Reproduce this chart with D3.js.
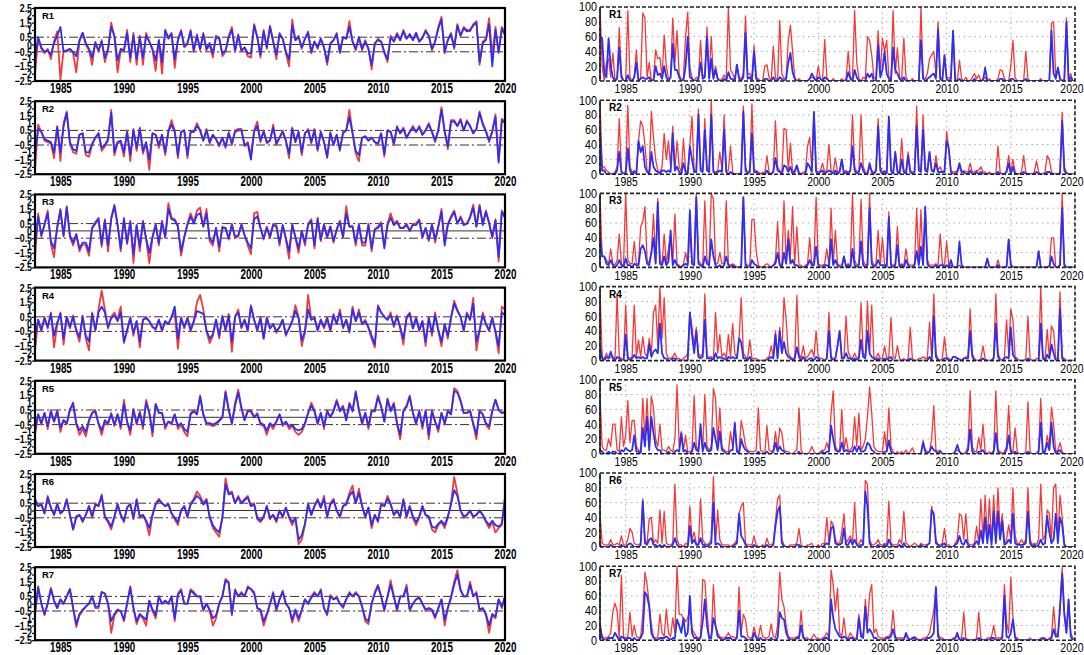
<!DOCTYPE html>
<html>
<head>
<meta charset="utf-8">
<script src="https://cdn.jsdelivr.net/npm/d3@7"></script>
<style>
  body { margin: 0; background: #fff; }
  svg { display: block; }
</style>
</head>
<body>
<div id="chart"></div>
<script>
// ---- tick labels / names ----
var panelNames = ["R1", "R2", "R3", "R4", "R5", "R6", "R7"];
var xTicks = [1985, 1990, 1995, 2000, 2005, 2010, 2015, 2020];
var leftYTicks = [2.5, 2, 1.5, 1, 0.5, 0, -0.5, -1, -1.5, -2, -2.5];
var rightYTicks = [0, 20, 40, 60, 80, 100];
var rightGrid = [20, 40, 60, 80];

// ---- left panels: quarterly anomalies x10, from 1983.0 to 2020.0 ----
var anomR1Red = [-20,4,-3,-6, -3,-10,2,9, -24,-4,-5,-3, -6,-19,2,8, 0,-4,-14,2, -5,3,-12,-4, 15,5,-19,-4, -5,10,-12,8, -14,6,-14,8, 2,-4,-18,3,
  -20,9,5,8, -16,3,10,-2, 0,10,-5,7, -4,8,-4,0, -9,6,5,-8, -5,6,12,-5, 7,-5,-2,-8, -9,14,5,-9, 10,-3,13,2, -10,8,4,-6,
  -15,17,3,6, -3,4,9,-6, 2,-3,4,-2, -14,0,3,8, -6,5,4,16, 2,-4,5,-4, 3,-3,-17,0, 4,2,-6,-12, 6,2,8,3, 10,4,7,3,
  8,2,4,10, 6,-4,2,12, 19,-6,3,8, -3,14,6,12, 10,9,14,16, -14,2,4,18, -8,12,-6,12, 8];
var anomR1Blue = [-10,5,-2,-5, -4,-7,1,6, 12,-5,-4,-3, -5,-8,3,8, 1,-3,-9,1, -4,2,-9,-3, 12,6,-11,-3, -4,8,-9,6, -10,5,-9,6, 2,-3,-11,3,
  -12,10,4,7, -10,3,9,-1, 1,9,-4,6, -3,7,-3,1, -6,5,4,-6, -4,5,10,-4, 6,-4,-2,-6, -6,13,5,-7, 9,-2,12,2, -7,7,4,-5,
  -10,13,3,5, -2,4,8,-5, 2,-2,4,-2, -12,1,3,7, -5,5,4,12, 2,-3,5,-3, 2,-3,-14,1, 3,2,-5,-10, 5,2,7,3, 9,4,7,3,
  8,2,5,9, 6,-3,2,11, 17,-5,3,7, -2,13,6,11, 9,10,13,15, -12,1,3,14, -15,10,-5,11, 6];
var anomR2Red = [-22,9,4,-2, -3,-4,-14,8, -16,10,18,-4, -10,-11,2,3, -12,-13,-5,0, 3,-9,-6,-2, 19,-12,-4,-3, -13,5,-16,6, -9,7,-11,-4, -22,3,2,-7,
  2,-12,5,12, 5,-14,4,5, -14,4,4,10, 5,-2,6,-4, 2,-1,-6,0, -7,4,-5,5, 6,6,-6,-3, -12,5,11,-3, 5,-4,-2,9, -5,0,5,-2,
  -14,7,-3,4, -12,3,6,-4, 6,-9,4,-3, -14,4,-5,2, -9,4,5,19, 3,-11,-16,0, 1,-2,0,-3, -5,3,-13,5, 4,-5,8,3, 7,0,4,8,
  4,8,2,5, 10,4,-3,6, 21,5,-8,12, 12,8,13,5, 12,8,3,6, 18,10,5,-3, 5,16,-16,13, 11];
var anomR2Blue = [-12,6,4,-1, -2,-3,-10,7, -10,8,17,-3, -8,-9,2,3, -10,-10,-4,0, 3,-7,-5,-1, 17,-10,-3,-2, -10,4,-12,5, -7,6,-9,-3, -15,3,2,-5,
  2,-10,4,9, 4,-12,4,5, -12,4,4,8, 5,-2,5,-3, 2,-1,-5,0, -6,3,-4,4, 5,5,-5,-4, -15,4,8,-2, 4,-3,-2,7, -4,0,4,-2,
  -11,6,-3,4, -10,3,5,-3, 5,-8,4,-3, -13,3,-5,2, -8,3,5,14, 3,-9,-12,0, 1,-2,0,-3, -4,3,-11,5, 4,-4,7,3, 6,0,4,7,
  4,7,2,5, 9,4,-2,5, 19,4,-6,11, 11,8,12,5, 11,8,3,6, 17,9,4,-2, 4,14,-17,12, 10];
var anomR3Red = [-18,12,-4,5, 14,-9,-18,3, 15,-4,17,-4, -10,-3,-14,-9, -10,-17,2,6, 9,-11,8,-14, 9,18,5,-14, 9,-9,7,-22, 4,-14,7,-6, -22,-5,5,-10,
  7,-5,19,9, 8,4,-17,-5, 5,12,6,14, 16,3,15,-7, -10,2,-14,3, 2,-6,5,-5, -4,5,-3,-10, -16,12,13,2, -6,3,-5,5, 4,-10,4,-6,
  -19,5,-5,-15, 0,-10,5,8, -12,9,-7,5, -5,3,-8,1, 7,-5,17,3, 3,-10,5,-10, -10,5,-14,1, 3,6,-10,5, 12,5,7,2, 2,5,0,5,
  5,8,-5,2, -7,5,-8,3, 15,-8,5,10, 14,5,10,5, 5,10,18,3, 18,5,14,6, -5,8,-21,14, 10];
var anomR3Blue = [-10,10,-3,4, 12,-7,-12,2, 14,-3,16,-3, -8,-2,-12,-8, -8,-14,2,5, 8,-9,7,-10, 8,17,4,-12, 8,-8,6,-16, 4,-11,6,-5, -15,-4,4,-8,
  6,-4,15,8, 7,3,-14,-4, 4,10,5,11, 12,3,12,-5, -8,2,-11,2, 2,-5,4,-4, -3,4,-3,-8, -12,8,10,2, -5,2,-4,4, 3,-8,4,-5,
  -14,4,-4,-12, 0,-8,4,7, -10,8,-6,4, -4,3,-7,1, 6,-4,12,3, 3,-8,4,-8, -8,4,-12,1, 2,5,-12,4, 9,4,6,2, 2,4,0,4,
  4,7,-4,2, -6,4,-6,3, 13,-10,4,9, 13,5,9,4, 5,9,16,3, 17,4,13,5, -4,7,-18,13, 9];
var anomR4Red = [-18,3,-5,5, -3,8,-16,0, 8,-14,5,-3, 6,-5,-12,6, -10,-18,8,-5, 10,23,10,-3, 5,8,3,12, -13,-5,5,-8, 2,-16,3,5, 2,-2,-4,3,
  -5,2,0,5, 8,-17,5,-3, 5,-5,2,15, 20,10,-5,-13, -8,3,-10,6, -5,7,-19,5, 10,-3,3,-5, 13,3,-5,5, -10,5,-3,0, -6,-2,3,-8,
  -3,2,13,5, -15,-6,20,3, 5,-5,3,-3, 5,-5,7,0, 10,-3,3,-6, 12,2,10,0, 3,-3,-10,-16, 13,8,5,3, 8,-2,6,-3, -14,5,8,-3,
  5,-5,2,-15, 5,-8,8,-5, -15,0,-10,5, 16,10,5,-5, 8,3,18,-18, -5,8,0,-5, 5,-6,-20,12, 10];
var anomR4Blue = [-10,3,-4,4, -2,7,-8,1, 7,-10,5,-2, 5,-4,-9,5, -8,-12,7,-4, 8,12,8,-2, 4,6,2,8, -12,-4,4,-6, 2,-12,3,4, 2,-2,-3,3,
  -4,2,0,5, 12,-10,4,-2, 4,-4,2,9, 8,7,-4,-10, -7,3,-8,5, -4,6,-12,5, 8,-2,3,-4, 12,3,-4,4, -10,4,-3,0, -5,-2,3,-7,
  -3,2,9,4, -11,-5,10,3, 4,-4,3,-2, 4,-4,6,0, 8,-2,3,-5, 10,2,8,0, 2,-2,-8,-14, 12,8,5,3, 6,-1,5,-2, -10,4,7,-3,
  4,-4,2,-12, 4,-6,6,-4, -12,0,-8,4, 14,9,5,-4, 7,3,14,-12, -4,6,0,-4, 4,-5,-15,8, 6];
var anomR5Red = [-12,2,-5,3, -8,5,-3,5, -10,-2,-5,6, 8,-5,-12,-8, -13,-3,3,5, -5,-12,-3,-5, 3,-6,2,-8, 12,-3,-12,6, -5,4,-8,12, 3,-13,9,3,
  3,-8,-3,-5, 2,-8,-5,-10, -13,3,5,2, 15,2,-5,-5, -6,-5,-3,0, 18,5,-5,10, 19,7,-2,5, 5,0,3,-5, -6,-12,-5,-8, -3,2,-6,-3,
  -8,-6,-10,-12, -10,-5,3,10, 5,-5,3,-8, 5,0,5,12, 5,8,-2,10, 5,18,5,-5, 3,-8,5,5, 15,8,-3,13, 5,10,-5,-15, 5,8,15,3,
  -5,5,-8,5, -15,5,-3,-10, 3,-5,5,2, 20,18,12,3, 3,5,-5,-15, 5,2,-5,-8, 5,12,5,3, 4];
var anomR5Blue = [-8,2,-4,3, -6,4,-3,4, -7,-2,-4,5, 10,-4,-9,-6, -10,-2,3,4, -4,-9,-2,-4, 2,-5,2,-6, 9,-3,-9,5, -4,3,-6,10, 3,-10,9,3,
  3,-6,-3,-4, 2,-6,-4,-8, -10,2,4,2, 14,2,-4,-4, -5,-4,-2,0, 17,5,-4,8, 17,6,-2,4, 4,0,2,-4, -5,-9,-4,-6, -3,2,-5,-3,
  -6,-5,-8,-9, -8,-4,3,8, 4,-4,3,-6, 4,0,4,11, 4,7,-2,9, 4,17,5,-4, 3,-6,4,4, 14,7,-3,12, 4,9,-4,-12, 4,7,14,3,
  -4,4,-6,4, -12,4,-3,-8, 3,-4,4,2, 18,17,11,3, 3,4,-4,-12, 4,2,-4,-6, 4,12,5,3, 3];
var anomR6Red = [5,3,5,-2, 10,2,-3,5, -2,0,8,-3, -13,-5,-3,-8, -3,3,-5,5, 3,11,-5,-8, -13,-5,5,-3, -8,2,5,-6, 8,-5,-3,-8, -17,-3,5,8,
  5,3,5,-2, -6,-10,0,3, -5,5,8,13, 10,5,8,-5, -12,-15,-18,-5, 22,12,13,5, 10,5,8,10, 3,5,-6,-8, -5,3,-6,-3, -8,0,-5,2,
  -5,-10,-5,-23, -20,-10,5,-3, 3,8,2,10, -5,5,8,0, -5,3,5,12, 17,5,15,3, -5,2,-12,-3, -8,5,3,10, 5,-3,0,-5, 8,-5,3,-5,
  -10,-5,3,-3, -5,-13,-15,-10, -8,-12,-5,5, 23,12,0,-5, -3,0,-5,-3, 0,-3,-8,-12, -8,-15,-12,-10, 10];
var anomR6Blue = [8,3,4,-2, 9,2,-3,4, -2,0,7,-3, -13,-4,-3,-7, -3,3,-4,4, 3,10,-4,-7, -11,-4,4,-3, -7,2,4,-5, 7,-4,-3,-7, -12,-3,4,7,
  5,3,4,-2, -5,-8,0,3, -4,4,7,10, 8,4,7,-4, -10,-13,-15,-5, 18,11,12,5, 9,5,7,9, 3,4,-5,-7, -4,3,-5,-3, -7,0,-4,2,
  -4,-8,-5,-20, -17,-9,4,-3, 3,7,2,8, -4,4,7,0, -4,3,4,10, 13,5,12,3, -4,2,-10,-3, -7,4,3,8, 4,-3,0,-4, 7,-4,3,-4,
  -8,-4,3,-3, -4,-11,-12,-9, -7,-10,-4,4, 14,10,0,-4, -3,0,-4,-3, 0,-3,-7,-10, -7,-10,-11,-9, 8];
var anomR7Red = [-8,12,0,-8, 0,11,2,-3, 3,0,5,10, -3,-16,-8,-5, -2,0,5,-3, -3,8,7,0, -20,-8,-5,-5, -12,0,12,-3, -14,-8,-10,-15, 2,-5,-10,5,
  0,2,0,5, -12,7,10,0, 0,10,8,5, 5,-5,0,-5, -15,-10,0,5, 17,15,-8,10, 5,8,5,12, 10,8,-3,-5, -15,-8,0,8, -5,3,9,0,
  -3,-13,-5,-12, -5,3,0,5, 8,5,10,-3, -8,6,3,5, 0,-3,3,8, 5,8,5,-2, -12,-14,0,8, 13,5,-5,5, 16,5,-5,5, 5,13,-5,0,
  3,5,0,-5, -3,-5,-10,-3, 3,-15,-3,5, 15,23,10,5, 5,15,5,8, -5,-3,-8,-20, -8,-10,3,-3, 5];
var anomR7Blue = [-6,11,0,-7, 0,10,2,-3, 3,0,5,10, -3,-14,-7,-4, -2,0,5,-2, -2,8,7,0, -12,-7,-4,-5, -11,0,11,-3, -12,-7,-9,-11, 2,-4,-8,5,
  0,2,0,5, -10,6,9,0, 0,9,7,5, 5,-4,0,-4, -10,-8,0,5, 16,14,-7,9, 5,7,5,11, 10,7,-3,-4, -12,-7,0,7, -4,3,8,0,
  -3,-11,-4,-10, -4,3,0,4, 7,5,9,-3, -7,5,3,4, 0,-2,3,7, 5,7,5,-2, -10,-12,0,7, 12,5,-4,5, 13,5,-4,5, 5,11,-4,0,
  3,4,0,-4, -3,-4,-9,-3, 3,-11,-3,4, 13,20,9,5, 5,13,5,7, -4,-3,-7,-15, -7,-9,3,-2, 5];

// ---- right panels: bimonthly percentages, from 1983.0 to 2020.0 ----
var freqR1Red = [100,20,0,25,30,5, 38,2,5,72,10,0, 0,95,5,0,5,42, 0,5,92,85,5,25, 0,3,42,30,32,5, 62,20,3,5,85,25, 68,10,0,5,60,93, 18,5,0,5,3,55,
  5,10,73,5,60,5, 20,5,0,3,8,3, 100,15,10,3,22,5, 3,10,88,10,10,3, 48,5,3,0,0,20, 22,5,0,47,5,0, 82,10,3,5,55,75, 40,5,0,3,0,0,
  0,0,3,5,3,0, 20,3,0,56,5,0, 0,3,0,0,0,3, 0,3,40,5,3,95, 25,3,0,5,3,60, 55,35,5,3,68,10, 58,40,55,5,3,95, 10,45,5,3,58,5,
  0,0,3,0,0,0, 100,5,3,10,30,35, 40,10,80,5,3,35, 3,5,3,68,3,0, 28,3,0,5,0,0, 5,10,3,8,0,3, 5,0,3,0,0,0, 3,15,14,3,0,0,
  20,55,5,0,0,0, 0,40,3,0,0,0, 0,0,3,0,0,0, 0,78,80,5,18,3, 0,3,85,3,10,0, 0];
var freqR1Blue = [60,58,10,5,58,20, 5,0,3,45,5,0, 0,8,0,0,5,25, 0,3,5,3,3,5, 0,0,20,8,10,3, 20,5,0,5,50,15, 15,5,0,0,20,60, 5,3,0,0,3,25,
  3,5,60,3,30,3, 15,3,0,0,3,0, 12,3,3,0,22,3, 0,5,65,3,5,0, 40,3,0,0,0,3, 3,0,0,5,0,0, 5,3,0,3,25,38, 12,3,0,0,0,0,
  0,0,3,10,5,0, 5,3,0,5,3,0, 0,0,0,0,0,0, 0,0,12,3,0,15, 5,0,0,0,0,10, 5,10,0,0,49,5, 15,40,10,3,0,45, 15,10,3,0,5,0,
  0,0,0,0,0,0, 55,3,0,3,5,8, 10,3,70,3,0,35, 3,0,3,68,0,0, 3,0,0,0,0,0, 0,3,0,0,0,0, 18,0,0,0,0,0, 0,3,3,0,0,0,
  3,3,0,0,0,0, 0,3,0,0,0,0, 0,0,0,0,0,0, 0,68,10,3,18,3, 0,0,80,0,5,0, 0];
var freqR2Red = [100,10,10,5,3,0, 0,3,10,75,5,0, 5,93,10,3,5,3, 45,72,65,40,5,3, 85,50,20,5,3,10, 55,20,45,10,65,5, 45,10,3,48,5,3, 40,78,5,5,88,10,
  5,75,10,5,100,5, 3,5,30,5,80,5, 5,38,3,0,0,0, 3,92,10,3,5,95, 5,5,3,0,3,0, 25,3,0,5,72,10, 5,3,62,60,5,42, 3,5,12,3,0,3,
  3,38,50,5,85,5, 3,5,15,3,5,40, 5,3,22,3,5,20, 3,5,3,5,80,10, 3,5,80,10,3,0, 10,5,3,5,75,10, 3,5,3,75,5,3, 30,5,3,48,5,3,
  30,5,3,3,92,10, 5,80,10,5,30,5, 5,25,5,10,3,5, 58,35,5,3,3,5, 10,3,5,3,3,15, 3,3,5,5,10,3, 3,0,3,0,0,0, 38,3,0,0,5,25,
  3,20,3,0,0,3, 25,3,0,0,0,3, 18,3,0,0,3,25, 20,3,0,0,0,3, 84,10,3,0,0,0, 0];
var freqR2Blue = [55,5,5,0,0,0, 0,0,5,30,3,0, 0,35,5,0,3,0, 45,30,38,10,3,0, 30,10,5,3,0,5, 5,3,5,3,55,5, 10,3,0,15,3,0, 38,20,3,3,80,5,
  3,60,5,3,80,3, 0,3,5,3,60,3, 0,3,0,0,0,0, 0,85,5,0,3,55, 3,3,0,0,0,0, 5,0,0,3,22,5, 3,0,12,10,3,10, 0,3,12,0,0,0,
  0,15,10,3,84,3, 0,3,5,0,3,5, 3,0,5,0,3,20, 0,3,0,5,38,5, 0,3,15,5,0,0, 15,3,0,5,65,5, 0,3,0,78,5,0, 30,3,0,20,3,0,
  25,3,0,3,65,5, 3,60,5,3,30,5, 3,15,3,3,3,3, 45,35,3,0,0,3, 15,3,3,0,0,5, 0,0,3,0,3,0, 0,0,0,0,0,0, 3,0,0,0,3,15,
  0,10,0,0,0,0, 3,0,0,0,0,0, 3,0,0,0,0,3, 3,0,0,0,0,0, 72,5,0,0,0,0, 0];
var freqR3Red = [100,15,15,10,5,25, 5,3,10,45,5,3, 100,10,5,5,35,5, 5,55,62,82,10,5, 22,72,5,93,10,5, 45,5,25,45,5,72, 5,3,0,5,20,5, 48,5,5,100,10,5,
  3,90,10,5,100,92, 5,5,20,5,5,90, 5,3,5,3,0,0, 3,95,5,3,3,65, 65,22,3,0,0,3, 5,3,0,3,10,62, 5,3,90,5,50,15, 82,5,55,3,3,0,
  3,5,40,3,10,95, 5,3,3,5,25,3, 80,5,50,5,3,3, 15,3,5,3,100,10, 3,5,92,10,3,5, 100,10,3,5,50,5, 40,5,3,75,5,3, 5,55,3,5,3,25,
  5,3,3,5,80,5, 78,5,80,10,3,3, 3,5,3,45,5,3, 35,3,3,0,0,0, 3,0,0,0,0,0, 0,0,0,0,0,0, 0,12,0,0,0,0, 10,0,0,0,0,38,
  5,0,0,0,0,0, 0,0,0,0,0,0, 0,22,0,0,0,0, 3,40,40,0,0,5, 100,5,0,0,0,0, 0];
var freqR3Blue = [42,15,15,5,3,10, 3,0,3,10,3,0, 12,3,3,0,5,3, 3,25,30,22,5,3, 20,40,5,88,5,3, 15,3,8,50,3,10, 3,0,0,3,5,3, 77,5,3,95,5,3,
  0,15,5,3,38,15, 3,0,3,0,3,15, 3,0,3,0,0,0, 0,95,3,0,0,10, 5,3,0,0,0,0, 0,0,0,3,5,20, 3,0,20,5,38,5, 10,3,3,0,0,0,
  0,3,10,3,3,28, 3,0,0,3,3,0, 38,3,10,3,0,0, 15,0,3,0,25,3, 0,3,35,3,0,3, 80,5,0,3,10,3, 3,3,0,68,3,0, 3,30,0,3,0,10,
  3,0,0,3,22,3, 28,3,82,5,0,0, 0,3,0,3,3,0, 3,0,10,0,0,0, 35,3,0,0,0,0, 0,0,0,0,0,0, 0,12,0,0,0,0, 3,0,0,0,0,38,
  3,0,0,0,0,0, 0,0,0,0,0,0, 0,22,0,0,0,0, 0,15,5,0,0,3, 80,3,0,0,0,0, 0];
var freqR4Red = [95,5,3,10,3,5, 5,3,90,5,3,0, 75,5,3,5,75,5, 28,5,32,10,5,30, 10,65,75,20,100,30, 85,10,3,3,5,10, 3,3,0,3,5,10, 65,45,20,45,10,5,
  10,90,5,5,5,3, 65,10,35,5,10,3, 35,5,50,10,3,30, 85,10,5,3,28,3, 3,3,0,0,0,0, 3,5,20,5,40,3, 45,10,85,55,10,5, 3,3,88,10,3,20,
  3,5,10,15,5,40, 5,3,3,0,3,65, 5,3,3,20,40,5, 3,60,12,5,3,10, 3,5,78,10,5,80, 10,75,5,3,10,3, 3,20,3,5,58,5, 3,20,3,0,3,0,
  3,45,3,0,0,3, 3,5,3,3,52,5, 90,10,3,0,3,32, 5,3,0,5,5,3, 3,0,3,5,5,70, 10,3,0,0,3,20, 3,0,0,0,5,90, 10,3,0,5,55,10,
  70,55,5,3,0,0, 0,3,60,3,0,0, 3,3,100,5,3,42, 3,47,40,3,3,93, 5,3,0,0,0,0, 0];
var freqR4Blue = [20,3,0,5,3,12, 3,0,5,3,0,0, 35,3,0,3,8,3, 5,3,5,3,3,22, 5,12,15,10,50,10, 3,3,0,0,3,3, 0,0,0,0,0,0, 65,35,10,40,5,3,
  5,55,3,3,3,0, 10,3,5,3,3,0, 5,3,5,3,3,30, 25,3,3,0,5,0, 0,0,0,0,0,0, 0,3,5,3,35,3, 40,10,25,10,5,3, 0,3,18,5,0,5,
  0,0,3,3,0,5, 3,0,0,0,3,40, 3,0,3,20,40,3, 3,10,3,3,0,3, 0,3,28,5,3,40, 10,5,3,0,3,0, 0,3,0,3,5,0, 0,0,0,0,0,0,
  0,3,0,0,0,0, 0,0,0,0,5,0, 60,5,0,0,0,3, 3,0,0,5,5,3, 0,0,3,3,3,40, 5,0,0,0,0,3, 0,0,0,0,3,50, 5,0,0,3,5,3,
  45,8,3,0,0,0, 0,0,3,0,0,0, 0,0,50,3,0,8, 3,22,10,0,0,70, 3,0,0,0,0,0, 0];
var freqR5Red = [80,10,5,5,20,10, 40,40,5,3,50,10, 25,72,15,45,45,10, 5,3,75,20,75,10, 78,62,20,10,40,5, 5,3,10,5,3,20, 93,10,30,5,25,3, 3,5,78,10,5,35,
  5,80,10,5,10,88, 75,15,62,10,5,3, 3,30,10,40,5,3, 45,30,10,5,3,3, 3,5,62,5,3,0, 38,5,3,5,30,5, 35,28,5,3,3,0, 0,3,5,62,5,0,
  0,0,3,10,3,0, 0,3,5,5,15,5, 55,85,10,5,5,60, 5,22,5,5,10,50, 10,55,5,10,20,50, 90,55,10,5,3,3, 3,30,5,62,10,3, 0,3,0,3,0,5,
  0,3,8,0,0,0, 0,18,5,3,3,20, 65,5,3,5,0,0, 0,0,0,0,3,5, 3,0,0,3,10,85, 10,3,3,22,5,40, 3,0,3,0,5,85, 5,3,0,3,10,65,
  5,3,35,3,0,0, 0,3,70,3,0,0, 0,5,75,3,3,25, 10,63,40,3,5,15, 3,0,0,0,0,0, 0];
var freqR5Blue = [5,3,0,0,3,0, 3,3,0,0,5,3, 8,5,3,5,25,3, 3,0,35,10,50,5, 50,28,10,5,5,0, 0,0,3,0,0,3, 5,3,28,3,5,0, 0,3,15,5,3,40,
  3,15,5,3,5,35, 20,5,30,5,3,0, 0,5,5,42,3,0, 20,10,5,3,0,0, 0,0,3,0,0,0, 3,0,0,3,15,3, 10,5,3,0,0,0, 0,0,0,3,0,0,
  0,0,0,0,0,0, 0,0,3,0,3,3, 38,20,5,3,3,15, 3,5,3,3,3,10, 3,10,3,3,5,15, 12,5,3,0,0,0, 0,3,3,18,3,0, 0,0,0,0,0,0,
  0,0,0,0,0,0, 0,15,3,0,3,10, 5,3,0,3,0,0, 0,0,0,0,3,12, 3,0,0,0,5,33, 3,0,0,3,3,5, 0,0,0,0,3,28, 3,0,0,0,5,25,
  3,0,3,0,0,0, 0,0,3,0,0,0, 0,3,42,0,3,15, 5,42,10,0,3,5, 0,0,0,0,0,0, 0];
var freqR6Red = [45,5,3,3,3,10, 3,3,5,3,15,3, 3,10,25,20,5,3, 3,5,65,10,5,38, 40,5,10,5,50,5, 48,5,3,3,5,85, 10,3,3,0,5,3, 55,10,20,5,3,65,
  10,5,3,5,10,95, 5,50,10,3,3,3, 3,0,3,5,10,45, 55,60,5,3,3,3, 15,3,0,0,3,0, 12,3,3,5,35,65, 70,10,3,0,0,3, 3,3,5,25,3,0,
  0,3,3,5,0,0, 3,0,5,5,40,5, 35,30,10,5,5,20, 45,5,10,15,5,60, 5,3,10,5,90,85, 10,3,3,5,10,3, 3,5,3,62,5,3, 3,3,10,5,48,5,
  3,0,3,5,3,0, 5,3,3,3,5,55, 40,10,3,3,5,25, 3,3,0,0,5,10, 45,42,10,45,5,3, 3,5,28,5,65,10, 70,10,65,5,70,10, 80,20,45,5,10,30,
  10,80,15,5,5,10, 5,10,80,10,3,5, 3,10,85,10,15,50, 45,10,80,85,10,70, 40,5,0,0,0,0, 0];
var freqR6Blue = [3,0,0,0,0,3, 0,0,0,0,3,0, 0,3,5,3,0,0, 0,3,62,5,3,10, 12,3,3,0,3,0, 3,0,0,0,3,12, 3,0,0,0,0,0, 28,5,10,3,3,12,
  3,3,0,3,5,60, 3,5,3,0,0,0, 0,0,0,3,5,45, 15,10,3,0,0,0, 3,0,0,0,0,0, 3,0,0,3,28,48, 55,5,0,0,0,0, 0,0,3,3,0,0,
  0,0,0,0,0,0, 0,0,0,3,5,3, 25,28,5,3,3,5, 25,3,3,10,3,10, 3,0,3,3,75,55, 5,0,0,0,3,0, 0,3,0,10,3,0, 0,0,3,0,5,0,
  0,0,0,0,0,0, 3,0,0,3,5,50, 45,5,3,0,3,5, 0,0,0,0,3,5, 15,5,3,10,3,0, 0,3,8,3,22,5, 40,5,30,3,48,5, 48,10,35,3,5,10,
  5,45,5,3,3,3, 3,5,48,5,0,3, 0,3,10,3,5,42, 20,5,10,45,5,40, 30,3,0,0,0,0, 0];
var freqR7Red = [25,5,3,3,5,10, 38,50,40,3,88,5, 3,5,38,5,20,5, 3,5,35,92,75,50, 20,5,3,3,35,10, 5,42,10,5,30,10, 100,35,35,30,25,30, 40,15,10,5,3,5,
  82,80,40,5,5,75, 20,10,5,3,3,5, 10,5,5,3,5,72, 10,35,28,5,3,3, 18,5,3,20,5,3, 3,5,22,5,3,20, 92,55,45,20,5,3, 3,3,5,5,40,5,
  3,3,0,3,8,3, 3,0,3,5,10,3, 95,75,40,70,10,5, 30,5,3,10,5,3, 3,35,10,5,55,20, 62,75,10,15,5,3, 3,3,5,5,10,40, 5,3,3,3,3,5,
  3,0,3,5,3,0, 0,3,3,5,10,25, 40,70,10,3,3,0, 0,0,0,3,3,5, 3,3,38,3,0,0, 0,0,3,38,3,0, 0,3,3,5,20,3, 3,3,5,75,25,10,
  85,30,5,3,0,0, 0,0,0,3,0,0, 0,0,3,3,3,0, 3,5,45,10,5,40, 98,40,10,55,10,3, 0];
var freqR7Blue = [18,3,0,0,3,3, 3,10,5,0,5,3, 0,3,3,0,3,0, 0,3,10,65,60,45, 10,3,0,0,3,3, 3,5,3,0,3,3, 28,20,10,30,5,10, 60,10,3,3,0,3,
  25,55,20,3,3,30, 20,5,3,0,0,3, 3,3,0,0,3,40, 5,5,3,0,0,0, 10,3,0,3,0,0, 0,0,3,0,0,3, 38,30,28,10,3,0, 0,0,3,3,20,3,
  0,0,0,0,0,0, 0,0,0,3,3,0, 55,30,15,10,5,3, 5,3,0,3,3,0, 0,30,5,3,45,10, 15,10,3,3,0,0, 0,0,3,3,5,15, 3,0,0,0,0,10,
  3,0,3,3,0,0, 0,0,0,3,3,5, 10,72,5,0,0,0, 0,0,0,0,3,10, 0,0,3,0,0,0, 0,0,0,3,0,0, 0,0,0,3,3,0, 0,0,3,60,5,3,
  10,28,3,0,0,0, 0,0,0,0,0,0, 0,0,0,3,0,0, 0,3,15,5,5,45, 90,35,10,55,5,0, 0];

var anomRed = [anomR1Red, anomR2Red, anomR3Red, anomR4Red, anomR5Red, anomR6Red, anomR7Red];
var anomBlue = [anomR1Blue, anomR2Blue, anomR3Blue, anomR4Blue, anomR5Blue, anomR6Blue, anomR7Blue];
var freqRed = [freqR1Red, freqR2Red, freqR3Red, freqR4Red, freqR5Red, freqR6Red, freqR7Red];
var freqBlue = [freqR1Blue, freqR2Blue, freqR3Blue, freqR4Blue, freqR5Blue, freqR6Blue, freqR7Blue];

// ---- layout ----
var svgWidth = 1084, svgHeight = 655;
var leftX0 = 35, leftX1 = 505;
var rightX0 = 600, rightX1 = 1075;
var panelTop0 = 8, panelStep = 93.2, panelH = 73;
var redColor = "#f23a3a", blueColor = "#2f2ff2";
var fontFam = "'Liberation Sans', Arial, Helvetica, sans-serif";

var svg = d3.select("#chart").append("svg")
    .attr("width", svgWidth)
    .attr("height", svgHeight);

var xLeft = d3.scaleLinear().domain([1983, 2020]).range([leftX0, leftX1]);
var xRight = d3.scaleLinear().domain([1983, 2020]).range([rightX0, rightX1]);

function minusSign(d) {
    return String(d).replace("-", "\u2212");
}

panelNames.forEach(function(name, k) {
    var top = panelTop0 + k * panelStep;
    var bottom = top + panelH;

    // ======== left panel ========
    var yL = d3.scaleLinear().domain([-2.5, 2.5]).range([bottom, top]);
    var gL = svg.append("g");

    gL.append("clipPath").attr("id", "clipL" + k)
        .append("rect")
        .attr("x", leftX0).attr("y", top)
        .attr("width", leftX1 - leftX0).attr("height", panelH);

    // reference lines at 0 and +-0.5
    gL.append("line")
        .attr("x1", leftX0).attr("x2", leftX1)
        .attr("y1", yL(0)).attr("y2", yL(0))
        .attr("stroke", "#333").attr("stroke-width", 1);
    [0.5, -0.5].forEach(function(v) {
        gL.append("line")
            .attr("x1", leftX0).attr("x2", leftX1)
            .attr("y1", yL(v)).attr("y2", yL(v))
            .attr("stroke", "#333").attr("stroke-width", 1)
            .attr("stroke-dasharray", "9,3,2,3");
    });

    var lineL = d3.line()
        .x(function(d, i) { return xLeft(1983 + i / 4); })
        .y(function(d) { return yL(d / 10); });

    var plotL = gL.append("g").attr("clip-path", "url(#clipL" + k + ")");
    plotL.append("path").datum(anomRed[k])
        .attr("d", lineL).attr("fill", "none")
        .attr("stroke", redColor).attr("stroke-width", 1.8)
        .attr("stroke-linejoin", "round");
    plotL.append("path").datum(anomBlue[k])
        .attr("d", lineL).attr("fill", "none")
        .attr("stroke", blueColor).attr("stroke-width", 1.8)
        .attr("stroke-linejoin", "round");

    // frame
    gL.append("rect")
        .attr("x", leftX0).attr("y", top)
        .attr("width", leftX1 - leftX0).attr("height", panelH)
        .attr("fill", "none").attr("stroke", "#000").attr("stroke-width", 2.2);

    // y axis (labels are packed tightly, as in the original)
    var yAxisL = gL.append("g")
        .attr("transform", "translate(" + leftX0 + ",0)")
        .call(d3.axisLeft(yL).tickValues(leftYTicks).tickSize(3).tickPadding(0).tickFormat(minusSign));
    yAxisL.select(".domain").remove();
    yAxisL.selectAll("line").attr("stroke", "#000").attr("stroke-width", 1.2);
    yAxisL.selectAll("text")
        .attr("x", -3 / 0.8)
        .attr("transform", "scale(0.8,1)")
        .style("font-family", fontFam).style("font-size", "11px").style("font-weight", "bold")
        .attr("fill", "#000");

    // x axis
    var xAxisL = gL.append("g")
        .attr("transform", "translate(0," + bottom + ")")
        .call(d3.axisBottom(xLeft).tickValues(xTicks).tickSize(0).tickPadding(2).tickFormat(d3.format("d")));
    xAxisL.select(".domain").remove();
    xAxisL.selectAll("text")
        .attr("transform", "scale(0.7,1)")
        .style("font-family", fontFam).style("font-size", "14px").style("font-weight", "bold")
        .attr("fill", "#000");

    gL.append("text")
        .attr("x", leftX0 + 7).attr("y", top + 11)
        .style("font-family", fontFam).style("font-size", "9.5px").style("font-weight", "bold")
        .text(name);

    // ======== right panel ========
    var rTop = top - 1, rBottom = bottom;
    var yR = d3.scaleLinear().domain([0, 100]).range([rBottom, rTop]);
    var gR = svg.append("g");

    gR.append("clipPath").attr("id", "clipR" + k)
        .append("rect")
        .attr("x", rightX0).attr("y", rTop - 1)
        .attr("width", rightX1 - rightX0).attr("height", rBottom - rTop + 1);

    // dotted grid
    rightGrid.forEach(function(v) {
        gR.append("line")
            .attr("x1", rightX0).attr("x2", rightX1)
            .attr("y1", yR(v)).attr("y2", yR(v))
            .attr("stroke", "#999").attr("stroke-width", 1)
            .attr("stroke-dasharray", "1.2,4");
    });
    xTicks.slice(0, -1).forEach(function(t) {
        gR.append("line")
            .attr("x1", xRight(t)).attr("x2", xRight(t))
            .attr("y1", rTop).attr("y2", rBottom)
            .attr("stroke", "#999").attr("stroke-width", 1)
            .attr("stroke-dasharray", "1.2,4");
    });

    var lineR = d3.line()
        .x(function(d, i) { return xRight(1983 + i / 6); })
        .y(function(d) { return yR(d); });

    var plotR = gR.append("g").attr("clip-path", "url(#clipR" + k + ")");
    plotR.append("path").datum(freqRed[k])
        .attr("d", lineR).attr("fill", "none")
        .attr("stroke", redColor).attr("stroke-width", 1.3)
        .attr("stroke-linejoin", "round");
    plotR.append("path").datum(freqBlue[k])
        .attr("d", lineR).attr("fill", "none")
        .attr("stroke", blueColor).attr("stroke-width", 1.8)
        .attr("stroke-linejoin", "round");

    // dashed frame with solid left edge
    gR.append("rect")
        .attr("x", rightX0).attr("y", rTop)
        .attr("width", rightX1 - rightX0).attr("height", rBottom - rTop)
        .attr("fill", "none").attr("stroke", "#222").attr("stroke-width", 1.6)
        .attr("stroke-dasharray", "4,2");
    gR.append("line")
        .attr("x1", rightX0).attr("x2", rightX0)
        .attr("y1", rTop).attr("y2", rBottom)
        .attr("stroke", "#222").attr("stroke-width", 1.6);

    var yAxisR = gR.append("g")
        .attr("transform", "translate(" + rightX0 + ",0)")
        .call(d3.axisLeft(yR).tickValues(rightYTicks).tickSize(0).tickPadding(3));
    yAxisR.select(".domain").remove();
    yAxisR.selectAll("text")
        .attr("x", -3 / 0.9)
        .attr("transform", "scale(0.9,1)")
        .style("font-family", fontFam).style("font-size", "12px")
        .attr("fill", "#000");

    var xAxisR = gR.append("g")
        .attr("transform", "translate(0," + rBottom + ")")
        .call(d3.axisBottom(xRight).tickValues(xTicks).tickSize(0).tickPadding(3).tickFormat(d3.format("d")));
    xAxisR.select(".domain").remove();
    xAxisR.selectAll("text")
        .attr("transform", "scale(0.8,1)")
        .style("font-family", fontFam).style("font-size", "13px")
        .attr("fill", "#000");
    // keep the last label inside the page edge
    xAxisR.selectAll(".tick").filter(function(d) { return d === 2020; })
        .select("text")
        .attr("text-anchor", "end")
        .attr("x", (svgWidth - 1 - rightX1) / 0.8);

    gR.append("text")
        .attr("x", rightX0 + 9).attr("y", rTop + 11)
        .style("font-family", fontFam).style("font-size", "10px").style("font-weight", "bold")
        .text(name);
});
</script>
</body>
</html>
